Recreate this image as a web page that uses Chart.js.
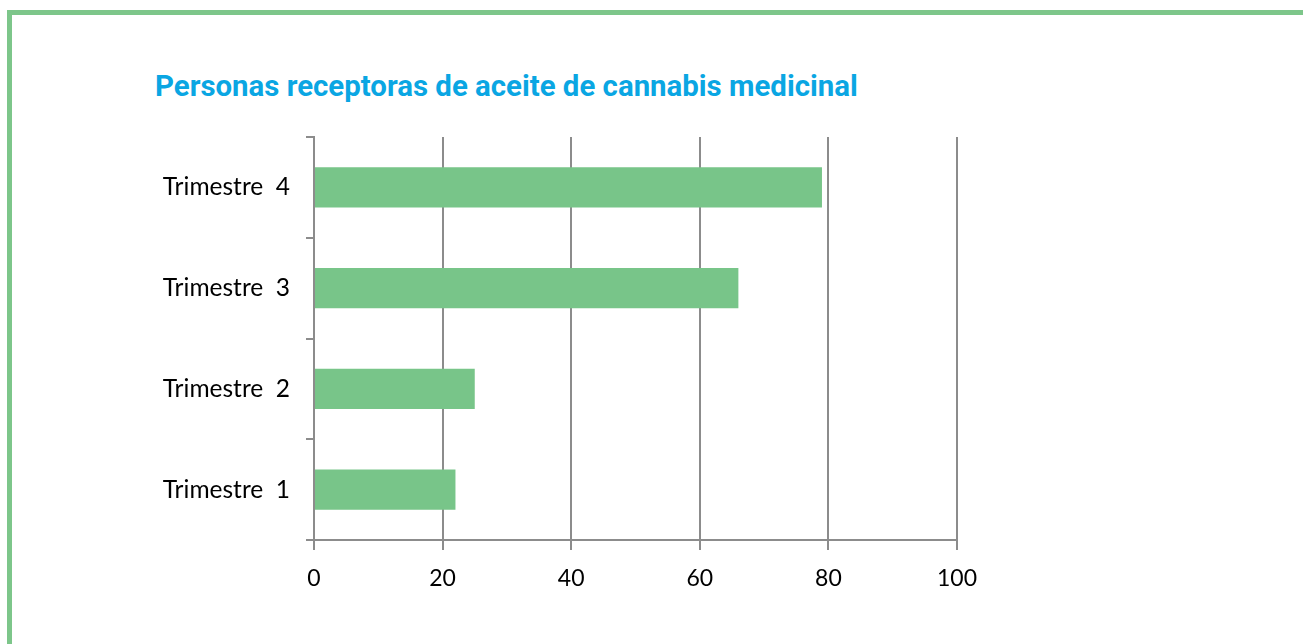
<!DOCTYPE html>
<html>
<head>
<meta charset="utf-8">
<script src="https://cdn.jsdelivr.net/npm/chart.js@4.4.1/dist/chart.umd.min.js"></script>
<style>
  html, body { margin: 0; padding: 0; background: #fff; overflow: hidden; }
  #frame {
    position: absolute; left: 7px; top: 10px; width: 1291px; height: 660px;
    border: 5px solid #7dc68a; box-sizing: content-box;
  }
  #title {
    position: absolute; left: 155px; top: 72px; margin: 0; line-height: 1;
    font-family: Roboto, sans-serif; font-weight: 700; font-size: 29.4px;
    color: #0aa6e3; white-space: nowrap;
  }
  #wrap { position: absolute; left: 0; top: 0; width: 1303px; height: 644px; }
</style>
</head>
<body>
<div id="frame"></div>
<h1 id="title">Personas receptoras de aceite de cannabis medicinal</h1>
<div id="wrap"><canvas id="chart"></canvas></div>
<script>
// categorías, de arriba a abajo
const categories = ["Trimestre  4", "Trimestre  3", "Trimestre  2", "Trimestre  1"];
const personas = [79, 66, 25, 22];
const xTicks = [0, 20, 40, 60, 80, 100];

const GRID = "#8c8c8c";
const BAR = "#78c589";
const FONT = "Lato, 'Open Sans', sans-serif";

new Chart(document.getElementById("chart"), {
  type: "bar",
  data: {
    labels: categories,
    datasets: [
      {
        label: "Personas",
        data: personas,
        backgroundColor: BAR,
        borderWidth: 0,
        barPercentage: 0.4,
        categoryPercentage: 1,
      },
    ],
  },
  options: {
    indexAxis: "y",
    responsive: true,
    maintainAspectRatio: false,
    animation: false,
    layout: { padding: { left: 0, right: 346, top: 137, bottom: 54 } },
    plugins: { legend: { display: false }, tooltip: { enabled: false } },
    scales: {
      x: {
        min: 0,
        max: 100,
        afterBuildTicks: (s) => { s.ticks = xTicks.map((v) => ({ value: v })); },
        afterFit: (s) => { s.height = 50; },
        grid: { color: GRID, lineWidth: 2, tickLength: 10, drawOnChartArea: true },
        border: { color: GRID, width: 2 },
        ticks: { color: "#000", font: { family: FONT, size: 23 }, padding: 15 },
      },
      y: {
        afterFit: (s) => { s.width = 314; },
        grid: { color: GRID, lineWidth: 2, tickLength: 8, drawOnChartArea: false, offset: true },
        border: { color: GRID, width: 2 },
        ticks: { color: "#000", font: { family: FONT, size: 24.5 }, padding: 16 },
      },
    },
  },
});
</script>
</body>
</html>
